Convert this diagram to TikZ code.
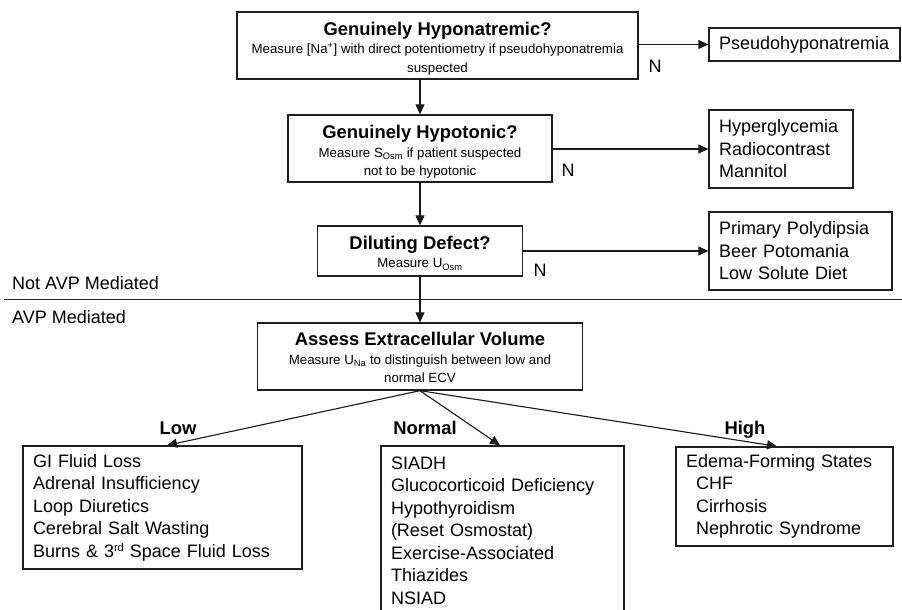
\documentclass[tikz,border=0pt]{standalone}
\usepackage{fontspec}
\setmainfont{Liberation Sans}
\usetikzlibrary{arrows.meta}
\newcommand{\titlef}{\bfseries\fontsize{18.4}{22}\selectfont}
\newcommand{\subf}{\fontsize{13.3}{18.5}\selectfont}
\newcommand{\listf}{\fontsize{18}{22.5}\selectfont}
\newcommand{\lift}[1]{\rule{0pt}{#1}}
\begin{document}
\begin{tikzpicture}[x=1pt,y=1pt,
  qbox/.style={draw=black!88, line width=1.3pt, inner sep=0pt, align=center, font=\subf},
  lbox/.style={draw=black!88, line width=1.3pt, inner xsep=10pt, inner ysep=0pt, align=left, font=\listf},
  arr/.style={draw=black!90, line width=1.1pt, -{Triangle[length=10pt,width=9pt]}},
  lbl/.style={font=\listf, inner sep=0pt, anchor=base},
  blbl/.style={font=\titlef, inner sep=0pt, anchor=base}]
\useasboundingbox (0,0) rectangle (902,-610);
\fill[white] (0,0) rectangle (902,-610);

% question boxes
\node[qbox, minimum width=401pt, minimum height=67pt] (q1) at (437.5,-45.5)
  {{\titlef\lift{19.5pt}Genuinely Hyponatremic?}\\ Measure [Na\textsuperscript{+}] with direct potentiometry if pseudohyponatremia\\ suspected};
\node[qbox, minimum width=264pt, minimum height=67pt] (q2) at (420,-148.5)
  {{\titlef\lift{20.5pt}Genuinely Hypotonic?}\\ Measure S\textsubscript{Osm} if patient suspected\\ not to be hypotonic};
\node[qbox, minimum width=205pt, minimum height=50pt] (q3) at (420,-251)
  {{\titlef\lift{17.5pt}Diluting Defect?}\\ Measure U\textsubscript{Osm}};
\node[qbox, minimum width=325pt, minimum height=67pt] (q4) at (420,-356.5)
  {{\titlef\lift{15.5pt}Assess Extracellular Volume}\\ Measure U\textsubscript{Na} to distinguish between low and\\ normal ECV};

% right boxes
\node[lbox, text width=171pt, minimum height=33pt] (pseudo) at (804.5,-44.5) {Pseudohyponatremia};
\node[lbox, text width=124pt, minimum height=78pt] (hyper) at (781,-149) {Hyperglycemia\\ Radiocontrast\\ Mannitol};
\node[lbox, text width=163pt, minimum height=78pt] (prim) at (800.5,-251) {Primary Polydipsia\\ Beer Potomania\\ Low Solute Diet};

% bottom boxes
\node[lbox, text width=259pt, minimum height=123pt] (low) at (162.5,-507.5)
  {GI Fluid Loss\\ Adrenal Insufficiency\\ Loop Diuretics\\ Cerebral Salt Wasting\\ Burns \& 3{\fontsize{11}{12}\selectfont\raisebox{6pt}{rd}} Space Fluid Loss};
\node[lbox, text width=223pt, minimum height=169pt] (norm) at (502.5,-530.5)
  {SIADH\\ Glucocorticoid Deficiency\\ Hypothyroidism\\ (Reset Osmostat)\\ Exercise-Associated\\ Thiazides\\ NSIAD};
\node[lbox, text width=197pt, minimum height=99pt] (high) at (784.5,-496.5)
  {Edema-Forming States\\ \hspace*{10pt}CHF\\ \hspace*{10pt}Cirrhosis\\ \hspace*{10pt}Nephrotic Syndrome};

% separator and side labels
\coordinate (sepL) at (4,-299.5);
\coordinate (sepR) at (902,-299.5);
\draw[black!85, line width=1.1pt] (sepL) -- (sepR);
\node[lbl, anchor=base west] (notavp) at (12,-289.5) {Not AVP Mediated};
\node[lbl, anchor=base west] (avp) at (12,-323.5) {AVP Mediated};

% vertical flow
\draw[arr] (q1.south -| q2.north) -- (q2.north);
\draw[arr] (q2.south) -- (q3.north);
\draw[arr] (q3.south) -- (q4.north);

% N branches
\draw[arr] (q1.east |- pseudo.west) -- (pseudo.west);
\draw[arr] (q2.east |- hyper.west) -- (hyper.west);
\draw[arr] (q3.east |- prim.west) -- (prim.west);
\node[lbl] (n1) at (655,-72.5) {N};
\node[lbl] (n2) at (568,-176.5) {N};
\node[lbl] (n3) at (540,-276.5) {N};

% ECV branches
\draw[arr] (q4.south) -- ([xshift=4.5pt]low.north);
\draw[arr] (q4.south) -- ([xshift=-2.5pt]norm.north);
\draw[arr] (q4.south) -- ([xshift=-7.5pt]high.north);
\node[blbl] (lowl) at (178,-434.5) {Low};
\node[blbl] (norml) at (425,-434.5) {Normal};
\node[blbl] (highl) at (745,-434.5) {High};
\end{tikzpicture}
\end{document}
